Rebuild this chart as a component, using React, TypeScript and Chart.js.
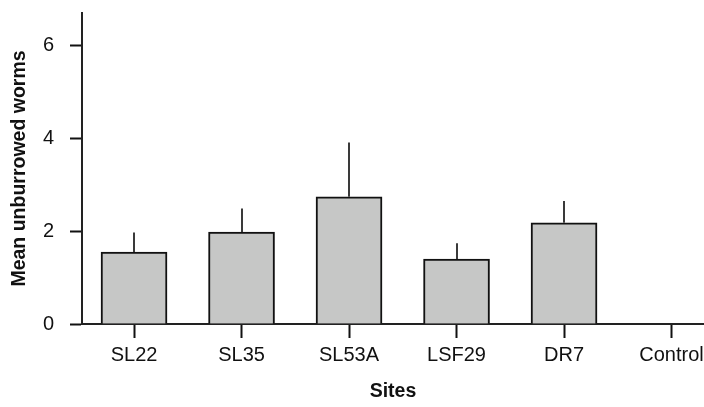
import React, { useEffect, useRef } from "react";
import { Chart, registerables } from "chart.js";

Chart.register(...registerables);

const sites = ["SL22", "SL35", "SL53A", "LSF29", "DR7", "Control"];
const means = [1.55, 1.98, 2.74, 1.4, 2.18, 0];
const errors = [0.42, 0.51, 1.17, 0.34, 0.47, 0];
const yTicks = [0, 2, 4, 6];

const FONT = "'Liberation Sans', Arial, Helvetica, sans-serif";

const errorBarPlugin = {
  id: "errorBars",
  afterDatasetsDraw(chart: any) {
    const { ctx, scales } = chart;
    const xs = scales.x;
    const ys = scales.y;
    ctx.save();
    ctx.strokeStyle = "#3a3a3a";
    ctx.lineWidth = 2;
    means.forEach((m, i) => {
      const e = errors[i];
      if (!e) return;
      const x = Math.round(xs.getPixelForValue(i));
      const y1 = ys.getPixelForValue(m);
      const y2 = ys.getPixelForValue(m + e);
      ctx.beginPath();
      ctx.moveTo(x, y1);
      ctx.lineTo(x, y2);
      ctx.stroke();
    });
    ctx.restore();
  },
};

export default function App() {
  const ref = useRef<HTMLCanvasElement | null>(null);

  useEffect(() => {
    document.body.style.margin = "0";
    const canvas = ref.current;
    if (!canvas) return;
    const chart = new Chart(canvas, {
      type: "bar",
      data: {
        datasets: [
          {
            data: means.map((v, i) => ({ x: i, y: v })),
            backgroundColor: "#c6c7c6",
            borderColor: "#111111",
            borderWidth: 2,
            borderSkipped: "bottom",
            barThickness: 66,
          },
        ],
      },
      options: {
        animation: false,
        responsive: false,
        devicePixelRatio: 1,
        layout: { padding: { top: 13, right: 0, bottom: 0, left: 0 } },
        plugins: {
          legend: { display: false },
          tooltip: { enabled: false },
        },
        scales: {
          x: {
            type: "linear",
            offset: false,
            min: -0.484,
            max: 5.302,
            afterBuildTicks(scale: any) {
              scale.ticks = sites.map((_, i) => ({ value: i }));
            },
            afterFit(scale: any) {
              scale.height = 83;
              scale.paddingLeft = 0;
              scale.paddingRight = 0;
            },
            ticks: {
              autoSkip: false,
              maxRotation: 0,
              padding: 5,
              color: "#111",
              font: { family: FONT, size: 20 },
              callback: (v: any) => sites[v as number] ?? "",
            },
            grid: {
              offset: false,
              drawOnChartArea: false,
              drawTicks: true,
              tickLength: 14,
              tickWidth: 2,
              tickColor: "#111",
              color: "#111",
            },
            border: { display: true, color: "#222", width: 2 },
            title: {
              display: true,
              text: "Sites",
              color: "#111",
              font: { family: FONT, size: 19.5, weight: "bold" },
              padding: { top: 6, bottom: 4 },
            },
          },
          y: {
            min: 0,
            max: 6.7,
            afterBuildTicks(scale: any) {
              scale.ticks = yTicks.map((v) => ({ value: v }));
            },
            afterFit(scale: any) {
              scale.width = 82;
              scale.paddingTop = 0;
              scale.paddingBottom = 0;
            },
            ticks: {
              padding: 16,
              color: "#111",
              font: { family: FONT, size: 20 },
            },
            grid: {
              drawOnChartArea: false,
              drawTicks: true,
              tickLength: 12,
              tickWidth: 2,
              tickColor: "#111",
              color: "#111",
            },
            border: { display: true, color: "#222", width: 2 },
            title: {
              display: true,
              text: "Mean unburrowed worms",
              color: "#111",
              font: { family: FONT, size: 19.5, weight: "bold" },
              padding: { top: 8, bottom: 4 },
            },
          },
        },
      },
      plugins: [errorBarPlugin],
    } as any);
    return () => chart.destroy();
  }, []);

  return (
    <div style={{ position: "absolute", left: 0, top: 0, width: 704, height: 407 }}>
      <canvas ref={ref} width={704} height={407} style={{ display: "block", width: 704, height: 407 }} />
    </div>
  );
}
